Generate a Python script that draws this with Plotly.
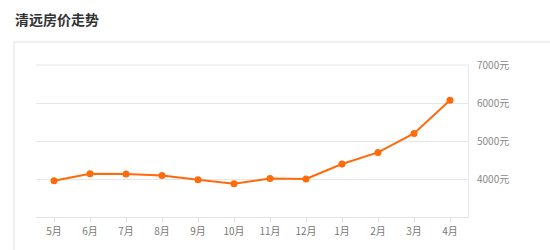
import plotly.graph_objects as go

months = ["5月", "6月", "7月", "8月", "9月", "10月", "11月", "12月", "1月", "2月", "3月", "4月"]
prices = [3955, 4140, 4130, 4090, 3980, 3876, 4010, 4000, 4394, 4700, 5200, 6070]
ytick_vals = [4000, 5000, 6000, 7000]
ytick_text = ["4000元", "5000元", "6000元", "7000元"]
title_text = "清远房价走势"

W, H = 550, 250
L, R, T, B = 36, 468, 65, 217
pw, ph = R - L, B - T

def px(x):
    return (x - L) / pw

def py(y):
    return (B - y) / ph

fig = go.Figure()
fig.add_trace(go.Scatter(
    x=list(range(len(months))), y=prices, mode="lines+markers",
    line=dict(color="#ff6a0a", width=2),
    marker=dict(color="#ff6a0a", size=7),
    hoverinfo="skip", showlegend=False,
))

fig.update_layout(
    width=W, height=H,
    margin=dict(l=L, r=W - R, t=T, b=H - B),
    paper_bgcolor="white", plot_bgcolor="white",
    font=dict(family="Noto Sans CJK SC, Noto Sans, sans-serif", color="#888888", size=10),
    xaxis=dict(
        tickmode="array", tickvals=list(range(len(months))), ticktext=months,
        range=[-0.5, len(months) - 0.5],
        showgrid=False, zeroline=False,
        showline=True, linecolor="#e3e3e3", linewidth=1,
        ticks="outside", ticklen=5, tickcolor="#e3e3e3",
        tickfont=dict(size=10, color="#777777"),
        fixedrange=True,
    ),
    yaxis=dict(
        side="right", range=[3000, 7000],
        tickmode="array", tickvals=ytick_vals, ticktext=ytick_text,
        showgrid=True, gridcolor="#e6e6e6", gridwidth=1,
        zeroline=False,
        showline=True, linecolor="#e8e8e8", linewidth=1,
        ticks="", ticklabelstandoff=6,
        tickfont=dict(size=10, color="#888888"),
        fixedrange=True,
    ),
    shapes=[
        dict(type="rect", xref="paper", yref="paper",
             x0=px(14), x1=px(600), y0=py(300), y1=py(42),
             line=dict(color="#ebebeb", width=1.5), fillcolor="rgba(0,0,0,0)", layer="below"),
        dict(type="line", xref="paper", yref="paper",
             x0=0, x1=1, y0=1, y1=1,
             line=dict(color="#e6e6e6", width=1)),
    ],
    annotations=[
        dict(text="<b>" + title_text + "</b>", xref="paper", yref="paper",
             x=px(13), y=py(19), xanchor="left", yanchor="middle", showarrow=False,
             font=dict(size=14, color="#333333", family="Noto Sans CJK SC, sans-serif")),
    ],
)

fig.write_html("out.html")
